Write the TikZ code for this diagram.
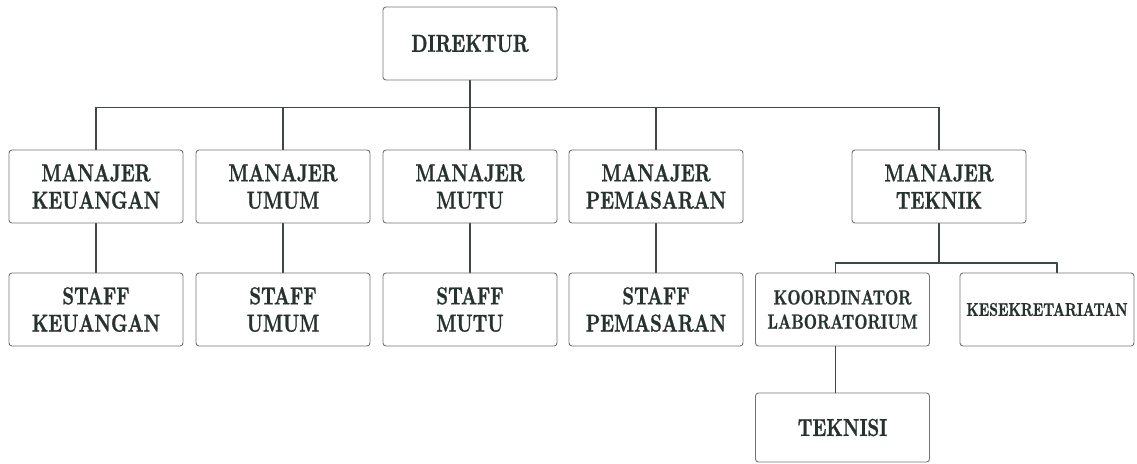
\documentclass[tikz,border=0pt]{standalone}
\usepackage{fontspec}
\setmainfont{lmroman10-regular.otf}[BoldFont=lmroman10-bold.otf,FakeStretch=0.75,FakeBold=1]
\definecolor{boxgray}{HTML}{747474}
\definecolor{linegray}{HTML}{3E4646}
\definecolor{txtgray}{HTML}{27322E}
\begin{document}
\begin{tikzpicture}[x=1pt,y=-1pt,line join=round,line cap=round,
	box/.style={draw=boxgray,line width=0.9pt,rounded corners=3pt,minimum width=174pt,minimum height=73pt,inner sep=0pt,align=center,text=txtgray,font=\fontsize{24.5}{27.3}\selectfont\bfseries},
	link/.style={draw=linegray,line width=1.3pt}]
		\useasboundingbox (0,0) rectangle (1137,463);
		\node[box] (dir) at (470,43.5) {DIREKTUR};
		\foreach \n/\x/\t in {keu/96/KEUANGAN,umum/283/UMUM,mutu/470/MUTU,pem/656/PEMASARAN}{
			\node[box] (m\n) at (\x,186.5) {MANAJER\\\t};
			\node[box] (s\n) at (\x,309.5) {STAFF\\\t};
		}
		\node[box] (mtek) at (939,186.5) {MANAJER\\TEKNIK};
		\node[box,font=\fontsize{20.4}{24.3}\selectfont\bfseries] (koor) at (842.5,309.5) {KOORDINATOR\\LABORATORIUM};
		\node[box,font=\fontsize{18.4}{20}\selectfont\bfseries] (sekr) at (1047,309.5) {KESEKRETARIATAN};
		\node[box,minimum height=69pt] (tekn) at (842.5,427.5) {TEKNISI};
		% garis utama
		\coordinate (bus) at (0,107.5);
		\draw[link] (dir.south) -- (dir.south |- bus);
		\draw[link] (mkeu.north |- bus) -- (mtek.north |- bus);
		\foreach \n in {keu,umum,mutu,pem,tek}
		\draw[link] (m\n.north |- bus) -- (m\n.north);
		\foreach \n in {keu,umum,mutu,pem}
		\draw[link] (m\n.south) -- (s\n.north);
		% cabang teknik
		\coordinate (sub) at (0,263);
		\coordinate (kl) at ([xshift=-7pt]koor.north);
		\coordinate (sl) at ([xshift=10pt]sekr.north);
		\draw[link] (mtek.south) -- (mtek.south |- sub);
		\draw[link] (kl |- sub) -- (sl |- sub);
		\draw[link] (kl |- sub) -- (kl);
		\draw[link] (sl |- sub) -- (sl);
		\draw[link] ([xshift=-7pt]koor.south) -- ([xshift=-7pt]tekn.north);
\end{tikzpicture}
\end{document}
